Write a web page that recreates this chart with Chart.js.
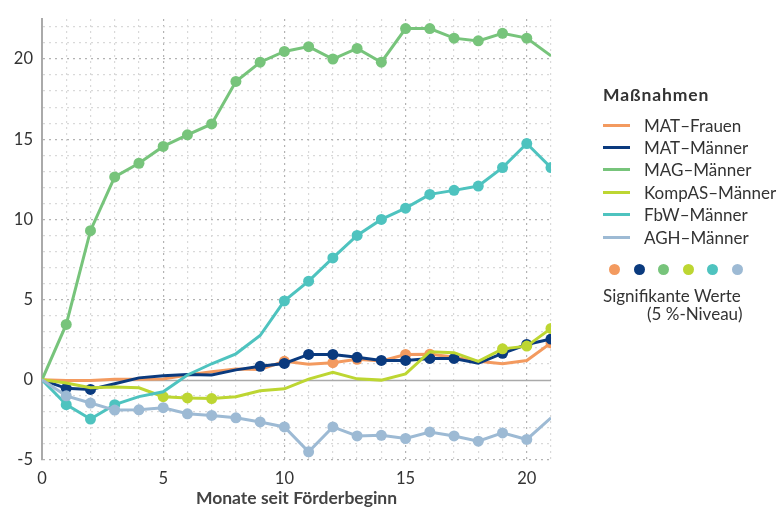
<!DOCTYPE html>
<html lang="de">
<head>
<meta charset="utf-8">
<script src="https://cdn.jsdelivr.net/npm/chart.js@4"></script>
<style>
  html, body { margin: 0; padding: 0; background: #fff; }
  body { width: 779px; height: 509px; position: relative; overflow: hidden; font-family: "Source Sans Pro", Lato, sans-serif; color: #333; }
  #wrap { position: absolute; left: 0; top: 0; width: 779px; height: 509px; }
  #legend { position: absolute; left: 603px; top: 84px; font-size: 17px; }
  #legend .title { font-weight: bold; font-size: 17.5px; letter-spacing: 0.9px; margin-bottom: 9px; }
  #legend .item { height: 22.4px; display: flex; align-items: center; }
  #legend .sw { width: 27px; height: 3px; margin-right: 14px; }
  #legend .dots { display: flex; margin: 16px 0 0 6px; }
  #legend .dot { width: 11px; height: 11px; border-radius: 50%; margin-right: 13.5px; }
  #legend .sig { margin-top: 12px; line-height: 18px; }
</style>
</head>
<body>
<div id="wrap"><canvas id="chart"></canvas></div>
<div id="legend"></div>
<script>
// ===================== DATA =====================
const months = [0, 1, 2, 3, 4, 5, 6, 7, 8, 9, 10, 11, 12, 13, 14, 15, 16, 17, 18, 19, 20, 21];

const matFrauen  = [0, -0.05, -0.05, 0.03, 0.04, 0.05, 0.3, 0.5, 0.68, 0.64, 1.15, 0.97, 1.07, 1.28, 1.17, 1.58, 1.6, 1.42, 1.15, 1.0, 1.2, 2.3];
const matMaenner = [0, -0.53, -0.6, -0.25, 0.12, 0.25, 0.33, 0.3, 0.62, 0.84, 1.02, 1.58, 1.58, 1.4, 1.21, 1.21, 1.33, 1.33, 1.03, 1.65, 2.2, 2.54];
const magMaenner = [0, 3.45, 9.3, 12.65, 13.5, 14.55, 15.27, 15.95, 18.6, 19.8, 20.47, 20.77, 20.0, 20.66, 19.8, 21.9, 21.9, 21.3, 21.13, 21.6, 21.3, 20.2];
const kompasMaenner = [0, -0.2, -0.5, -0.45, -0.5, -1.05, -1.13, -1.17, -1.05, -0.68, -0.56, 0.04, 0.47, 0.06, -0.02, 0.37, 1.75, 1.69, 1.15, 1.93, 2.1, 3.2];
const fbwMaenner = [0, -1.55, -2.45, -1.55, -1.05, -0.75, 0.3, 1.0, 1.62, 2.76, 4.92, 6.15, 7.6, 9.0, 10.0, 10.7, 11.56, 11.81, 12.08, 13.23, 14.73, 13.23];
const aghMaenner = [0, -1.0, -1.45, -1.89, -1.87, -1.74, -2.12, -2.22, -2.37, -2.63, -2.94, -4.49, -2.94, -3.5, -3.46, -3.66, -3.25, -3.5, -3.83, -3.31, -3.72, -2.37];

// Monate mit signifikanten Werten (5 %-Niveau)
const sigMatFrauen  = [10, 12, 13, 15, 16, 21];
const sigMatMaenner = [1, 2, 9, 10, 11, 12, 13, 14, 15, 16, 17, 19, 20, 21];
const sigMag        = [1, 2, 3, 4, 5, 6, 7, 8, 9, 10, 11, 12, 13, 14, 15, 16, 17, 18, 19, 20];
const sigKompas     = [5, 6, 7, 19, 20, 21];
const sigFbw        = [1, 2, 3, 10, 11, 12, 13, 14, 15, 16, 17, 18, 19, 20, 21];
const sigAgh        = [1, 2, 3, 4, 5, 6, 7, 8, 9, 10, 11, 12, 13, 14, 15, 16, 17, 18, 19, 20];

const seriesNames = ['MAT\u2013Frauen', 'MAT\u2013M\u00e4nner', 'MAG\u2013M\u00e4nner', 'KompAS\u2013M\u00e4nner', 'FbW\u2013M\u00e4nner', 'AGH\u2013M\u00e4nner'];
const seriesColors = ['#f39a5f', '#0a3a7e', '#77c47b', '#bdd632', '#4ec3bf', '#9dbad4'];
const yTicks = [-5, 0, 5, 10, 15, 20];
const xTicks = [0, 5, 10, 15, 20];

// ===================== CHART =====================
const values = [matFrauen, matMaenner, magMaenner, kompasMaenner, fbwMaenner, aghMaenner];
const sigs = [sigMatFrauen, sigMatMaenner, sigMag, sigKompas, sigFbw, sigAgh];

const datasets = values.map((vals, i) => ({
    label: seriesNames[i],
    data: vals.map((v, k) => ({ x: months[k], y: v })),
    borderColor: seriesColors[i],
    backgroundColor: seriesColors[i],
    borderWidth: 3,
    tension: 0,
    pointRadius: ctx => sigs[i].includes(months[ctx.dataIndex]) ? 5.5 : 0,
    pointBorderWidth: 0,
    order: 6 - i
}));

// durchgezogene Nulllinie
const zeroLine = {
    id: 'zeroLine',
    beforeDatasetsDraw(chart) {
        const { ctx, chartArea, scales } = chart;
        const y = Math.round(scales.y.getPixelForValue(0)) + 0.5;
        ctx.save();
        ctx.strokeStyle = '#aaaaaa';
        ctx.lineWidth = 1.5;
        ctx.beginPath();
        ctx.moveTo(chartArea.left, y);
        ctx.lineTo(chartArea.right, y);
        ctx.stroke();
        ctx.restore();
    }
};

const tickFont = { family: '"Source Sans Pro", Lato, sans-serif', size: 16.5 };

new Chart(document.getElementById('chart'), {
    type: 'line',
    data: { datasets },
    plugins: [zeroLine],
    options: {
        responsive: true,
        maintainAspectRatio: false,
        animation: false,
        events: [],
        layout: { padding: { top: 15, right: 228, left: 0, bottom: 0 } },
        plugins: { legend: { display: false }, tooltip: { enabled: false } },
        scales: {
            x: {
                type: 'linear', min: 0, max: 21,
                afterFit: s => { s.height = 49; },
                ticks: {
                    stepSize: 1, color: '#333', font: tickFont, padding: 9, maxRotation: 0,
                    autoSkip: false,
                    callback: v => xTicks.includes(v) ? String(v) : ''
                },
                grid: {
                    drawTicks: false,
                    color: c => (c.tick && c.tick.value % 5 === 0) ? '#b3b3b3' : '#d9d9d9',
                    lineWidth: 1.2
                },
                border: { display: false, dash: [2, 4] },
                title: {
                    display: true, text: 'Monate seit F\u00f6rderbeginn', color: '#444',
                    font: { family: tickFont.family, size: 17.5, weight: 'bold' },
                    padding: { top: 0, bottom: 0 }
                }
            },
            y: {
                min: -5, max: 22.5,
                afterFit: s => { s.width = 42; },
                ticks: {
                    stepSize: 1, includeBounds: false, color: '#333', font: tickFont, padding: 9,
                    autoSkip: false,
                    callback: v => yTicks.includes(v) ? String(v) : ''
                },
                grid: {
                    drawTicks: false,
                    color: c => {
                        if (!c.tick) return '#d9d9d9';
                        if (c.tick.value === 0) return 'rgba(0,0,0,0)';
                        return c.tick.value % 5 === 0 ? '#b3b3b3' : '#d9d9d9';
                    },
                    lineWidth: 1.2
                },
                border: { display: true, color: '#aaaaaa', width: 2, dash: [2, 4] }
            }
        }
    }
});

// ===================== LEGENDE =====================
const leg = document.getElementById('legend');
leg.innerHTML = '<div class="title">Ma\u00dfnahmen</div>' +
    seriesNames.map((n, i) => `<div class="item"><span class="sw" style="background:${seriesColors[i]}"></span>${n}</div>`).join('') +
    '<div class="dots">' + seriesColors.map(c => `<span class="dot" style="background:${c}"></span>`).join('') + '</div>' +
    '<div class="sig">Signifikante Werte<br><span style="padding-left:44px">(5 %-Niveau)</span></div>';
</script>
</body>
</html>
